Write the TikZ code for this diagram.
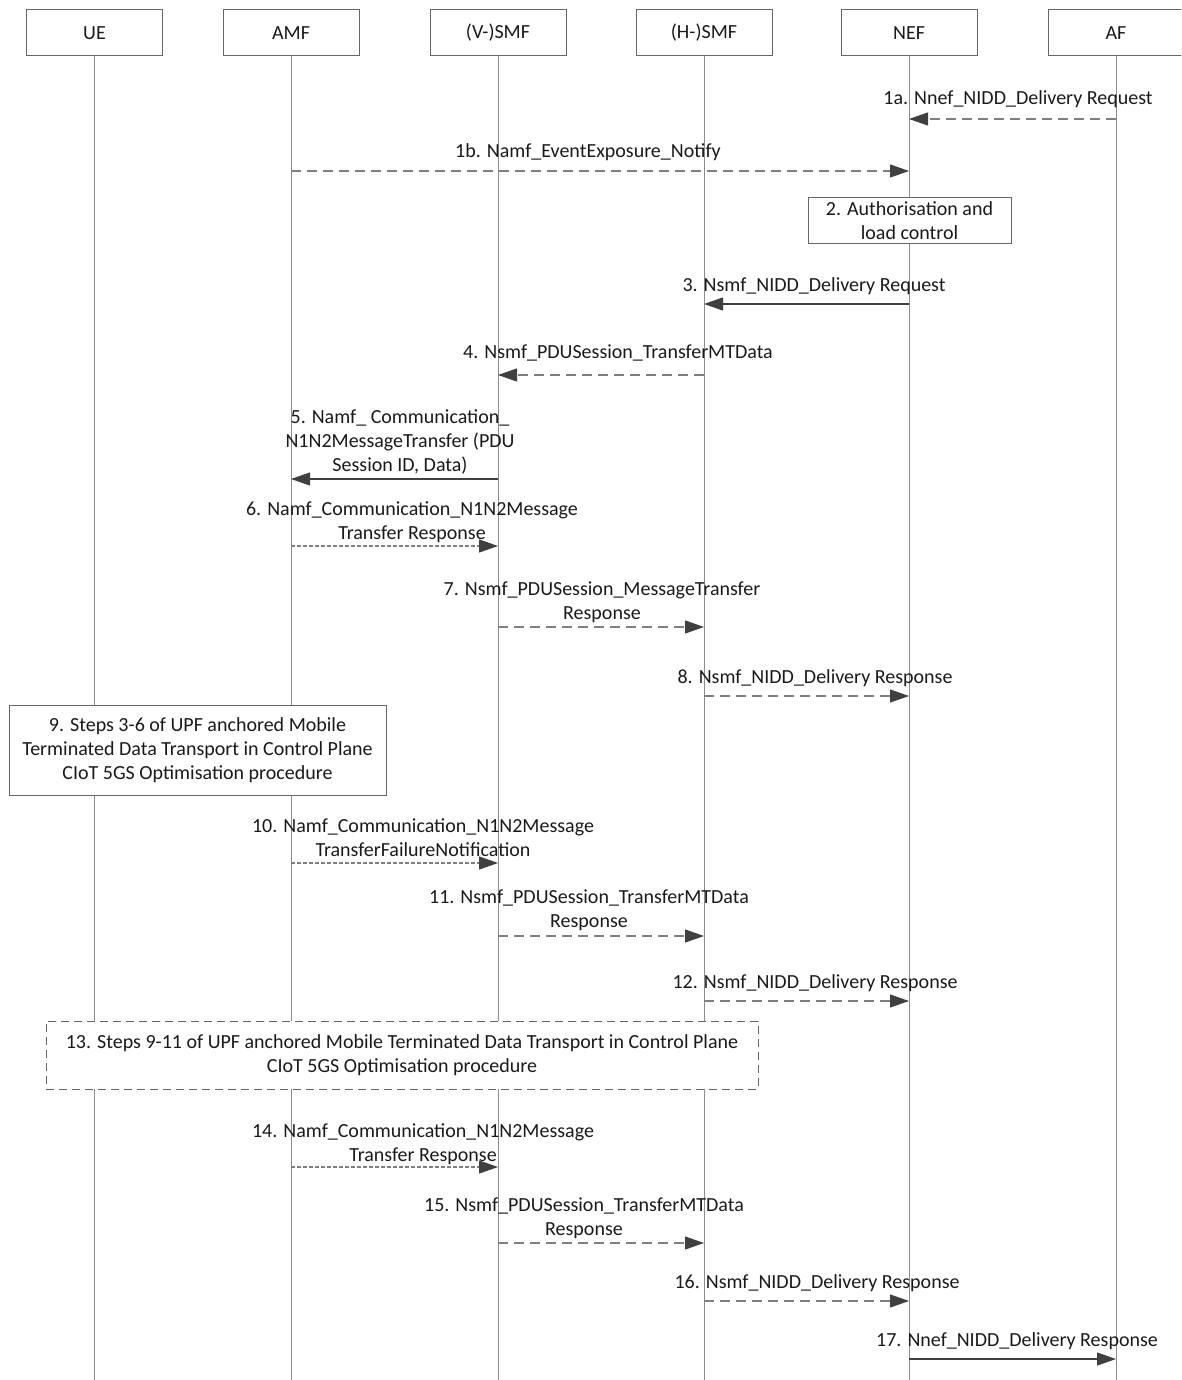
\documentclass[tikz,border=0pt]{standalone}
\usepackage{fontspec}
\setmainfont{Carlito}
\usetikzlibrary{arrows.meta}
\definecolor{life}{HTML}{8C8C8C}
\definecolor{arr}{HTML}{404040}
\definecolor{dline}{HTML}{7F7F7F}
\definecolor{bord}{HTML}{666666}
\definecolor{txt}{HTML}{1A1A1A}
\begin{document}
\begin{tikzpicture}[x=1pt,y=-1pt,
  every node/.style={font=\fontsize{20}{24}\selectfont, text=txt},
  head/.style={draw=bord, line width=1pt, minimum width=136pt, minimum height=46pt, inner sep=0pt, fill=white},
  lifeline/.style={draw=life, line width=1pt},
  msg/.style={draw=arr, line width=1.2pt, -{Triangle[length=19pt,width=13pt,color=arr]}},
  dsh/.style={draw=dline, line width=1.1pt, dash pattern=on 10pt off 6pt},
  dotl/.style={draw=dline, line width=1.1pt, dash pattern=on 4pt off 2pt},
  lbl/.style={align=center, inner sep=0pt, text depth=0pt, anchor=south},
  stepbox/.style={draw=bord, fill=white, align=center, inner sep=0pt, line width=1pt}]
\useasboundingbox (0,0) rectangle (1181,1380);
\clip (0,0) rectangle (1181,1380);
\coordinate (bot) at (0,1380);
% headers
\node[head] (ue)   at (94.5,33)   {UE};
\node[head] (amf)  at (291,33)  {AMF};
\node[head] (vsmf) at (498,33)  {(V-)SMF};
\node[head] (hsmf) at (704,33)  {(H-)SMF};
\node[head] (nef)  at (909,33)  {NEF};
\node[head] (af)   at (1116,33) {AF};
% lifelines
\foreach \n in {ue,amf,vsmf,hsmf,nef,af}
  \draw[lifeline] (\n.south) -- (\n.south |- bot);
% boxes
\node[stepbox, minimum width=203pt, minimum height=46pt] (s2) at (909.5,221) {2. Authorisation and\\load control};
\node[stepbox, minimum width=377pt, minimum height=90pt] (s9) at (197.5,750) {9. Steps 3-6 of UPF anchored Mobile\\Terminated Data Transport in Control Plane\\CIoT 5GS Optimisation procedure};
\node[stepbox, dash pattern=on 8pt off 5pt, minimum width=712pt, minimum height=68pt] (s13) at (402,1055) {13. Steps 9-11 of UPF anchored Mobile Terminated Data Transport in Control Plane\\CIoT 5GS Optimisation procedure};
% messages
\draw[msg,dsh] (af.south |- 0,119) -- (nef.south |- 0,119);
\node[lbl] (l1a) at (1018,105) {1a. Nnef\_NIDD\_Delivery Request};
\draw[msg,dsh] (amf.south |- 0,171) -- (nef.south |- 0,171);
\node[lbl] (l1b) at (588,158) {1b. Namf\_EventExposure\_Notify};
\draw[msg] (nef.south |- 0,304) -- (hsmf.south |- 0,304);
\node[lbl] (l3) at (814,292) {3. Nsmf\_NIDD\_Delivery Request};
\draw[msg,dsh] (hsmf.south |- 0,375) -- (vsmf.south |- 0,375);
\node[lbl] (l4) at (618,359) {4. Nsmf\_PDUSession\_TransferMTData};
\draw[msg] (vsmf.south |- 0,479) -- (amf.south |- 0,479);
\node[lbl] (l5) at (400,472) {5. Namf\_ Communication\_\\N1N2MessageTransfer (PDU\\Session ID, Data)};
\draw[msg,dotl] (amf.south |- 0,546) -- (vsmf.south |- 0,546);
\node[lbl] (l6) at (412,540) {6. Namf\_Communication\_N1N2Message\\Transfer Response};
\draw[msg,dsh] (vsmf.south |- 0,627) -- (hsmf.south |- 0,627);
\node[lbl] (l7) at (602,620) {7. Nsmf\_PDUSession\_MessageTransfer\\Response};
\draw[msg,dsh] (hsmf.south |- 0,696) -- (nef.south |- 0,696);
\node[lbl] (l8) at (815,684) {8. Nsmf\_NIDD\_Delivery Response};
\draw[msg,dotl] (amf.south |- 0,863) -- (vsmf.south |- 0,863);
\node[lbl] (l10) at (423,857) {10. Namf\_Communication\_N1N2Message\\TransferFailureNotification};
\draw[msg,dsh] (vsmf.south |- 0,936) -- (hsmf.south |- 0,936);
\node[lbl] (l11) at (589,928) {11. Nsmf\_PDUSession\_TransferMTData\\Response};
\draw[msg,dsh] (hsmf.south |- 0,1001) -- (nef.south |- 0,1001);
\node[lbl] (l12) at (815,989) {12. Nsmf\_NIDD\_Delivery Response};
\draw[msg,dotl] (amf.south |- 0,1167) -- (vsmf.south |- 0,1167);
\node[lbl] (l14) at (423,1162) {14. Namf\_Communication\_N1N2Message\\Transfer Response};
\draw[msg,dsh] (vsmf.south |- 0,1243) -- (hsmf.south |- 0,1243);
\node[lbl] (l15) at (584,1236) {15. Nsmf\_PDUSession\_TransferMTData\\Response};
\draw[msg,dsh] (hsmf.south |- 0,1301) -- (nef.south |- 0,1301);
\node[lbl] (l16) at (817,1289) {16. Nsmf\_NIDD\_Delivery Response};
\draw[msg] (nef.south |- 0,1359) -- (af.south |- 0,1359);
\node[lbl] (l17) at (1017,1347) {17. Nnef\_NIDD\_Delivery Response};
\end{tikzpicture}
\end{document}
